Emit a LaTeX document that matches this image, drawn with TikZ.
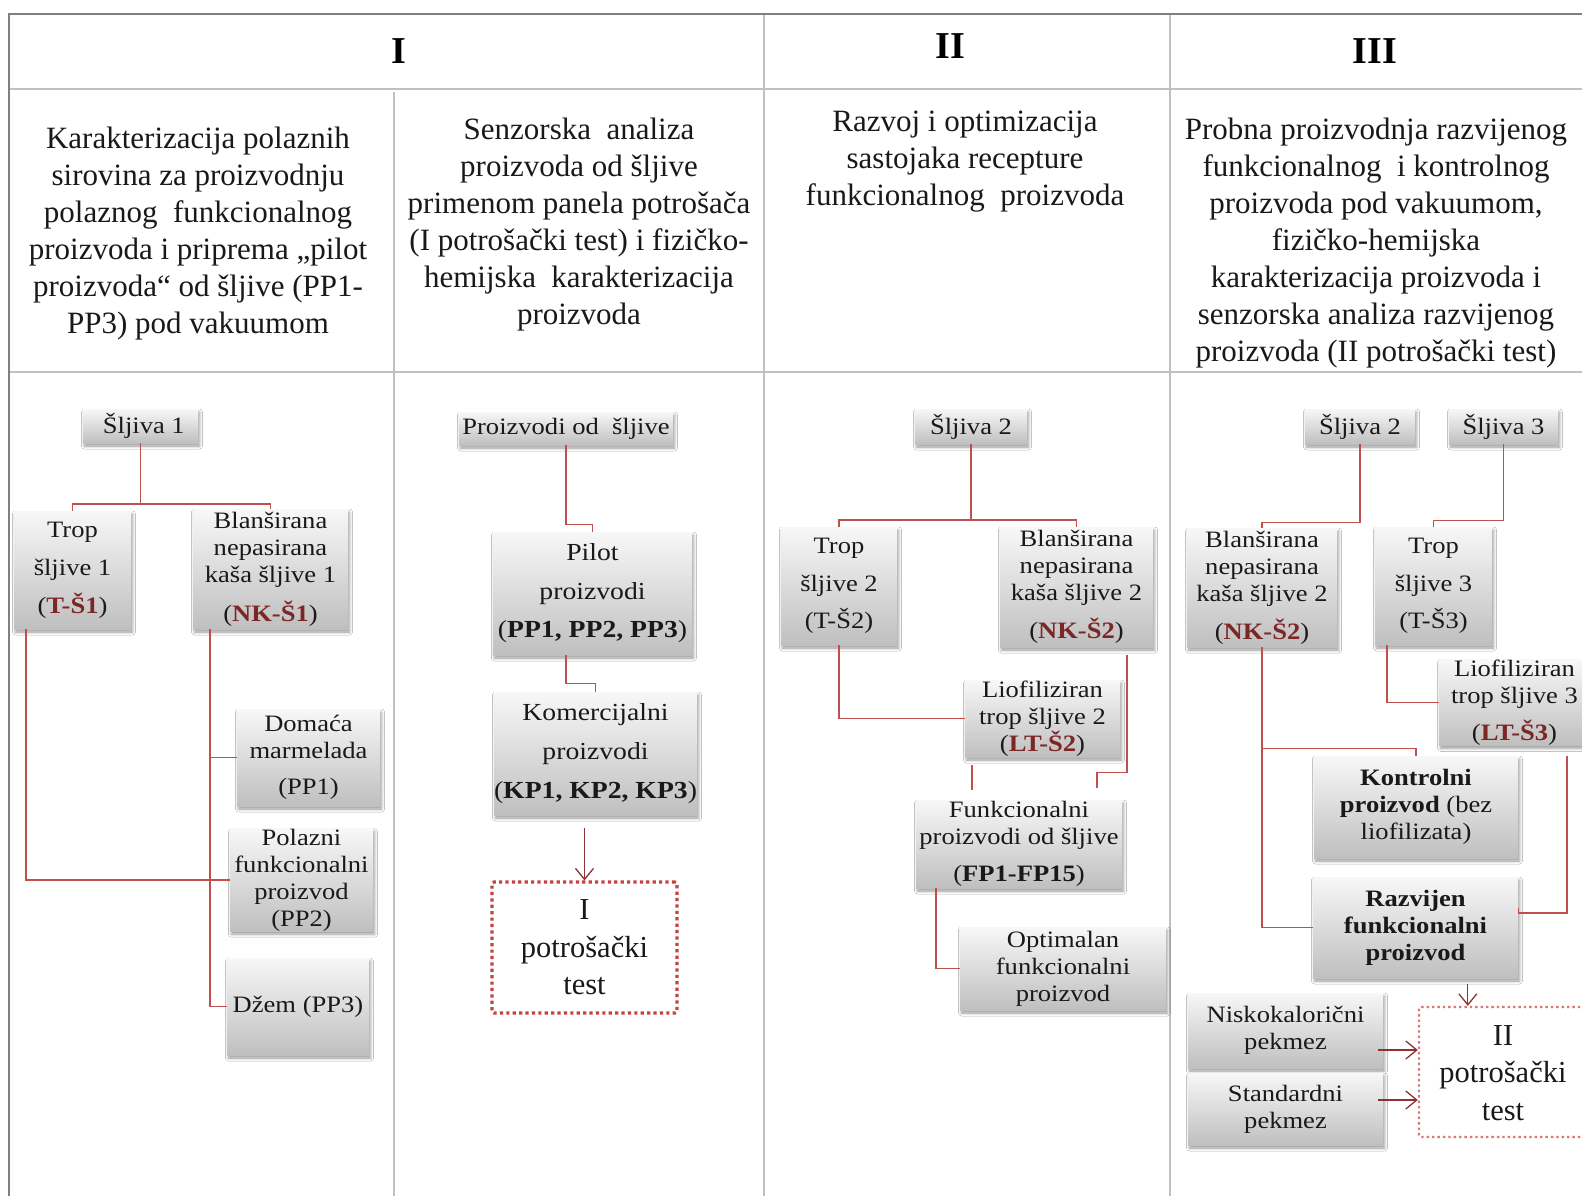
\documentclass[tikz,border=0pt]{standalone}
\usepackage{fontspec}
\setmainfont{Liberation Serif}
\newfontfamily\bxf[FakeStretch=1.13]{Liberation Serif}
\usetikzlibrary{arrows.meta,shadows.blur}
\definecolor{conred}{RGB}{192,80,77}
\definecolor{arrred}{RGB}{140,50,50}
\definecolor{codered}{RGB}{125,38,38}
\definecolor{gridgray}{RGB}{192,192,192}
\definecolor{framegray}{RGB}{128,128,128}
\definecolor{dotred}{RGB}{200,65,65}
\definecolor{dotpink}{RGB}{215,120,120}
\newcommand{\cd}[1]{{\bfseries\color{codered}#1}}

\begin{document}
\begin{tikzpicture}[x=1pt,y=-1pt,
  pbox/.style={rectangle, inner sep=0pt, align=center, text=black!90,
     top color=white!97!black, bottom color=black!25,
     blur shadow={shadow xshift=1.5pt, shadow yshift=-3pt, shadow blur radius=3pt, shadow opacity=40},
     font=\bxf\fontsize{23.5}{27}\selectfont},
  wide/.style={font=\bxf\fontsize{23.5}{38}\selectfont},
  conn/.style={draw=conred, line width=1.4pt},
  arr/.style={draw=arrred, line width=1.3pt, -{Straight Barb[length=11pt,width=18pt,line width=1.3pt]}},
  hdr/.style={align=center, font=\fontsize{31}{37}\selectfont, text=black!90},
  roman/.style={font=\bfseries\fontsize{38}{40}\selectfont},
  testtxt/.style={align=center, text=black!90, font=\fontsize{30.5}{37.5}\selectfont},
  dotbox/.style={draw=dotred, line width=3.2pt, dash pattern=on 3.2pt off 3.2pt, rounded corners=2pt},
  dotboxlight/.style={draw=dotpink, line width=2.4pt, dash pattern=on 2.4pt off 3pt, rounded corners=2pt},
]
\useasboundingbox (0,0) rectangle (1582,1196);
\fill[white] (0,0) rectangle (1582,1196);

% table grid
\draw[gridgray, line width=2] (8,89) -- (1600,89);
\draw[gridgray, line width=2] (8,372) -- (1600,372);
\draw[gridgray, line width=1.5] (394,92) -- (394,1200);
\draw[gridgray, line width=1.5] (764,14) -- (764,1200);
\draw[gridgray, line width=1.5] (1170,14) -- (1170,1200);
\draw[framegray, line width=2.2] (8,14) -- (1600,14);
\draw[framegray, line width=2] (9,13) -- (9,1200);

% phase numbers
\node[roman] (ph1) at (399,51) {I};
\node[roman] (ph2) at (950,46) {II};
\node[roman] (ph3) at (1375,51) {III};

% phase descriptions
\node[hdr] (d1) at (198,233.5) {Karakterizacija polaznih\\sirovina za proizvodnju\\polaznog\ \ funkcionalnog\\proizvoda i priprema „pilot\\proizvoda“ od šljive (PP1-\\PP3) pod vakuumom};
\node[hdr] (d2) at (579,224.5) {Senzorska\ \ analiza\\proizvoda od šljive\\primenom\ panela potrošača\\(I potrošački test) i fizičko-\\hemijska\ \ karakterizacija\\proizvoda};
\node[hdr] (d3) at (965,162) {Razvoj i optimizacija\\sastojaka recepture\\funkcionalnog\ \ proizvoda};
\node[hdr] (d4) at (1376,243.5) {Probna proizvodnja razvijenog\\funkcionalnog\ \ i kontrolnog\\proizvoda pod vakuumom,\\fizičko-hemijska\\karakterizacija proizvoda i\\senzorska analiza razvijenog\\proizvoda (II potrošački test)};

% ---------- phase I, part 1 ----------
\node[pbox, minimum width=115, minimum height=34] (s1) at (140.5,426) {\ Šljiva 1};
\node[pbox, wide, minimum width=117, minimum height=118] (t1) at (72.5,570) {Trop\\šljive 1\\(\cd{T-Š1})};
\node[pbox, minimum width=155, minimum height=120] (nk1) at (270.5,569) {Blanširana\\nepasirana\\kaša šljive 1\\[12pt](\cd{NK-Š1})};
\node[pbox, minimum width=143, minimum height=97] (pp1) at (308.5,757.5) {Domaća\\marmelada\\[9pt](PP1)};
\node[pbox, minimum width=143, minimum height=96] (pp2) at (301.5,880) {Polazni\\funkcionalni\\proizvod\\(PP2)};
\node[pbox, minimum width=142, minimum height=97] (pp3) at (298,1006.5) {Džem (PP3)};

\draw[conn] (s1.south) -- ++(0,61);
\draw[conn] (t1.north) -- ++(0,-7) -| (nk1.north);
\draw[conn] ([xshift=12]t1.south west) |- (pp2.west);
\coordinate (nkx) at ([xshift=17]nk1.south west);
\draw[conn] (nkx) |- (pp3.west);
\draw[conn] (pp1.west) -- (pp1.west -| nkx);

% ---------- phase I, part 2 ----------
\node[pbox, minimum width=214, minimum height=33] (pod) at (566,428.5) {Proizvodi od\ \ šljive};
\node[pbox, font=\bxf\fontsize{24.5}{38.5}\selectfont, minimum width=199, minimum height=123] (pilot) at (592.5,593.5) {Pilot\\proizvodi\\(\textbf{PP1, PP2, PP3})};
\node[pbox, font=\bxf\fontsize{24.5}{39}\selectfont, minimum width=199, minimum height=123] (kom) at (595.5,753.5) {Komercijalni\\proizvodi\\(\textbf{KP1, KP2, KP3})};
\node[dotbox, testtxt, minimum width=185, minimum height=131] (test1) at (584.5,947.5) {I\\potrošački\\test};

\draw[conn] (pod.south) -- ++(0,79) -| (pilot.north);
\draw[conn] ([xshift=-26.5]pilot.south) -- ++(0,28) -| (kom.north);
\draw[arr] ([yshift=52]test1.north) -- (test1.north);

% ---------- phase II ----------
\node[pbox, minimum width=112, minimum height=35] (s2) at (971,426.5) {Šljiva 2};
\node[pbox, font=\bxf\fontsize{23.5}{37.5}\selectfont, minimum width=116, minimum height=118] (t2) at (839,586) {Trop\\šljive 2\\(T-Š2)};
\node[pbox, minimum width=153, minimum height=120] (nk2) at (1076.5,587) {Blanširana\\nepasirana\\kaša šljive 2\\[11pt](\cd{NK-Š2})};
\node[pbox, minimum width=155, minimum height=77] (lt2) at (1042.5,718.5) {Liofiliziran\\trop šljive 2\\(\cd{LT-Š2})};
\node[pbox, minimum width=206, minimum height=88] (fp) at (1019,844) {Funkcionalni\\proizvodi od šljive\\[10pt](\textbf{FP1-FP15})};
\node[pbox, minimum width=206, minimum height=83] (opt) at (1063,968.5) {Optimalan\\funkcionalni\\proizvod};

\draw[conn] (s2.south) -- ++(0,76);
\draw[conn] (t2.north) -- ++(0,-7) -| (nk2.north);
\draw[conn] (t2.south) |- (lt2.west);
\draw[conn] ([xshift=50.5,yshift=-8]nk2.south) -- ++(0,117) -| ([xshift=78,yshift=12]fp.north);
\draw[conn] ([xshift=-70.5,yshift=-8]lt2.south) -- ([xshift=-47,yshift=10]fp.north);
\draw[conn] ([xshift=20]fp.south west) |- (opt.west);

% ---------- phase III ----------
\node[pbox, minimum width=110, minimum height=35] (s2b) at (1360,426.5) {Šljiva 2};
\node[pbox, minimum width=109, minimum height=35] (s3) at (1503.5,426.5) {Šljiva 3};
\node[pbox, minimum width=150, minimum height=119] (nk2b) at (1262,587.5) {Blanširana\\nepasirana\\kaša šljive 2\\[11pt](\cd{NK-Š2})};
\node[pbox, font=\bxf\fontsize{23.5}{37.5}\selectfont, minimum width=117, minimum height=118] (t3) at (1433.5,586) {Trop\\šljive 3\\(T-Š3)};
\node[pbox, minimum width=151, minimum height=81] (lt3) at (1514.5,702.5) {Liofiliziran\\trop šljive 3\\[10pt](\cd{LT-Š3})};
\node[pbox, minimum width=204, minimum height=102] (kon) at (1416,807) {\textbf{Kontrolni}\\\textbf{proizvod} (bez\\liofilizata)};
\node[pbox, font=\bxf\bfseries\fontsize{23.5}{27}\selectfont, minimum width=205, minimum height=101] (raz) at (1415.5,927.5) {Razvijen\\funkcionalni\\proizvod};
\node[pbox, minimum width=195, minimum height=75] (nis) at (1285.5,1030.5) {Niskokalorični\\pekmez};
\node[pbox, minimum width=195, minimum height=72] (std) at (1285.5,1109) {Standardni\\pekmez};
\node[dotboxlight, minimum width=201, minimum height=130] (test2box) at (1519.5,1072) {};
\node[testtxt] (test2) at (1503,1073) {II\\potrošački\\test};

\draw[conn] (s2b.south) -- ++(0,78) -| (nk2b.north);
\draw[conn] (s3.south) -- ++(0,76) -| (t3.north);
\draw[conn] ([xshift=12]t3.south west) |- (lt3.west);
\draw[conn] (nk2b.south) |- (raz.west);
\draw[conn] (nk2b.south) ++(0,101) -| (kon.north);
\draw[conn] ([xshift=52.5,yshift=-11]lt3.south) |- ([yshift=14.5]raz.east) -- ++(0,-5);
\draw[arr] ([xshift=50,yshift=22]test2box.north west) -- ([xshift=50]test2box.north west);
\coordinate (n1) at ([xshift=-5,yshift=-19.5]nis.east);
\coordinate (n2) at ([xshift=-5,yshift=9]std.east);
\draw[arr] (n1) -- (n1 -| test2box.west);
\draw[arr] (n2) -- (n2 -| test2box.west);
\end{tikzpicture}
\end{document}
